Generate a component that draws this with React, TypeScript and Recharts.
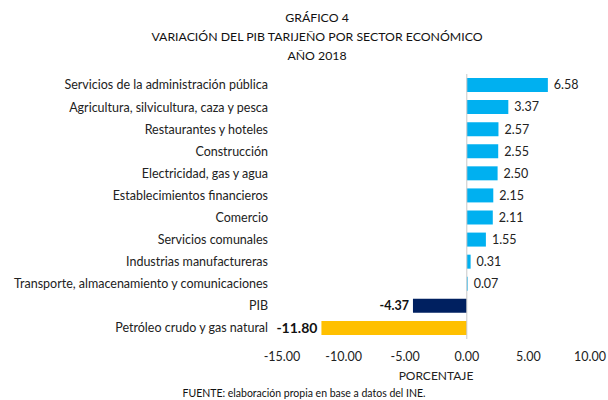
import { BarChart, Bar, XAxis, YAxis, Cell, LabelList, ReferenceLine } from 'recharts'

const sectors = [
  'Servicios de la administración pública',
  'Agricultura, silvicultura, caza y pesca',
  'Restaurantes y hoteles',
  'Construcción',
  'Electricidad, gas y agua',
  'Establecimientos financieros',
  'Comercio',
  'Servicios comunales',
  'Industrias manufactureras',
  'Transporte, almacenamiento y comunicaciones',
  'PIB',
  'Petróleo crudo y gas natural',
]
const variation = [6.58, 3.37, 2.57, 2.55, 2.5, 2.15, 2.11, 1.55, 0.31, 0.07, -4.37, -11.8]
const xTicks = [-15, -10, -5, 0, 5, 10]

const data = sectors.map((name, i) => ({ name, value: variation[i] }))

const FONT = 'Lato, "Liberation Sans", sans-serif'

const barColor = (name: string) => {
  if (name === 'PIB') return '#002060' // navy
  if (name.startsWith('Petróleo')) return '#FFC000' // amber
  return '#00B0F0' // sky blue
}

// plain text tick so long names don't wrap
const SectorTick = (props: any) => {
  const { x, y, payload } = props
  return (
    <text x={x} y={y} dy="0.35em" textAnchor="end" fontSize={12.5} fill="#222" fontFamily={FONT}>
      {payload.value}
    </text>
  )
}

const ValueLabel = (props: any) => {
  const { x, y, width, height, value } = props
  const v = Number(value)
  const cy = y + height / 2
  if (v >= 0) {
    return (
      <text x={x + width + 6} y={cy} dy="0.35em" fontSize={12.5} fill="#222" fontFamily={FONT}>
        {v.toFixed(2)}
      </text>
    )
  }
  // negative: bold, left of the bar end
  const left = Math.min(x, x + width)
  return (
    <text
      x={left - 4}
      y={cy}
      dy="0.35em"
      textAnchor="end"
      fontSize={v < -10 ? 14 : 12.5}
      fontWeight="bold"
      fill="#111"
      fontFamily={FONT}
    >
      {v.toFixed(2)}
    </text>
  )
}

export default function App() {
  return (
    <div style={{ position: 'absolute', left: 0, top: 0, width: 608, height: 400, background: '#fff', fontFamily: FONT }}>
      <div style={{ position: 'absolute', left: 0, top: 8, width: 634, textAlign: 'center', fontSize: 12.3, lineHeight: '19px', color: '#111' }}>
        <div>GRÁFICO 4</div>
        <div>VARIACIÓN DEL PIB TARIJEÑO POR SECTOR ECONÓMICO</div>
        <div>AÑO 2018</div>
      </div>
      <BarChart
        width={608}
        height={400}
        data={data}
        layout="vertical"
        margin={{ top: 74, right: 18, left: 0, bottom: 17 }}
        barSize={14}
      >
        <XAxis
          type="number"
          domain={[-15, 10]}
          ticks={xTicks}
          axisLine={false}
          tickLine={false}
          tickMargin={7}
          height={44}
          tickFormatter={(v: number) => v.toFixed(2)}
          tick={{ fontSize: 12.5, fill: '#222', fontFamily: FONT }}
          label={{ value: 'PORCENTAJE', position: 'insideBottom', offset: 3, fontSize: 12, fill: '#222', fontFamily: FONT }}
        />
        <YAxis
          type="category"
          dataKey="name"
          width={282}
          axisLine={false}
          tickLine={false}
          tickMargin={8}
          interval={0}
          tick={SectorTick}
        />
        <ReferenceLine x={0} stroke="#c8c8c8" strokeWidth={1} />
        <Bar dataKey="value" isAnimationActive={false}>
          {data.map((d) => (
            <Cell key={d.name} fill={barColor(d.name)} />
          ))}
          <LabelList dataKey="value" content={ValueLabel} />
        </Bar>
      </BarChart>
      <div style={{ position: 'absolute', left: 0, top: 387, width: 608, textAlign: 'center', fontSize: 10.5, color: '#111' }}>
        FUENTE: elaboración propia en base a datos del INE.
      </div>
    </div>
  )
}
